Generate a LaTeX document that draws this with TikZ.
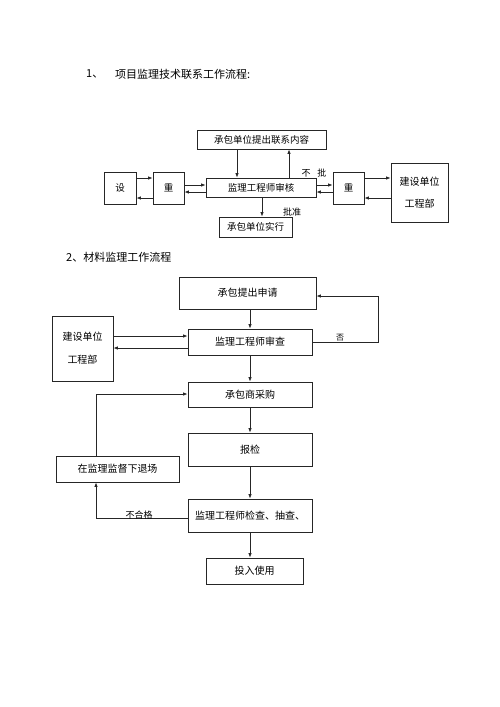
\documentclass[tikz,border=0pt]{standalone}
\usepackage{fontspec}
\newfontfamily\cjk{Noto Sans CJK SC}
\usetikzlibrary{arrows.meta,calc}
\tikzset{
  box/.style={draw=black!85, line width=0.8pt, fill=white, inner sep=0pt, font=\cjk\fontsize{9.5}{11}\selectfont, align=center},
  arr/.style={draw=black!85, line width=0.8pt, -{Latex[length=4.5pt,width=3.5pt]}},
  ln/.style={draw=black!85, line width=0.8pt},
  lbl/.style={font=\cjk\fontsize{9}{10}\selectfont, inner sep=0pt},
  ttl/.style={font=\cjk\fontsize{11}{13}\selectfont, inner sep=0pt, anchor=west}
}
\begin{document}
\begin{tikzpicture}[x=1pt,y=-1pt]
\useasboundingbox (0,0) rectangle (500,707);
% titles
\node[ttl] (t1a) at (86,74) {1、};
\node[ttl] (t1b) at (115,74) {项目监理技术联系工作流程:};
\node[ttl] (t2) at (66,257) {2、材料监理工作流程};

% ---- diagram 1
\node[box, minimum width=129pt, minimum height=19pt] (top) at (261.5,139.5) {承包单位提出联系内容};
\node[box, minimum width=32pt, minimum height=32pt] (she) at (120,188) {设};
\node[box, minimum width=31pt, minimum height=32pt] (zl) at (168.5,188) {重};
\node[box, minimum width=110pt, minimum height=19pt] (cen) at (261,187.5) {监理工程师审核};
\node[box, minimum width=31pt, minimum height=32pt] (zr) at (348.5,188) {重};
\node[box, minimum width=57pt, minimum height=59pt, font=\cjk\fontsize{10}{22}\selectfont] (js1) at (419.5,192.5) {建设单位\\工程部};
\node[box, minimum width=73pt, minimum height=20pt] (bot) at (255.5,227) {承包单位实行};

\draw[arr] (top.south -| 237,0) -- (cen.north -| 237,0);
\draw[arr] (cen.north -| 289,0) -- (top.south -| 289,0);
\draw[arr] (she.east |- 0,178) -- (zl.west |- 0,178);
\draw[arr] (zl.west |- 0,198) -- (she.east |- 0,198);
\draw[arr] (zl.east |- 0,185) -- (cen.west |- 0,185);
\draw[arr] (cen.west |- 0,192) -- (zl.east |- 0,192);
\draw[arr] (cen.east |- 0,185) -- (zr.west |- 0,185);
\draw[arr] (zr.west |- 0,192) -- (cen.east |- 0,192);
\draw[arr] (zr.east |- 0,178) -- (js1.west |- 0,178);
\draw[arr] (js1.west |- 0,198) -- (zr.east |- 0,198);
\draw[arr] (cen.south -| 262,0) -- (bot.north -| 262,0);
\node[lbl] (bupi) at (314,173) {不\hspace{7pt}批};
\node[lbl] (pizhun) at (292,212) {批准};

% ---- diagram 2
\tikzset{box2/.style={box, font=\cjk\fontsize{10}{12}\selectfont}}
\node[box2, minimum width=137pt, minimum height=32pt] (sq) at (247.5,293) {承包提出申请};
\node[box2, minimum width=61pt, minimum height=65pt, font=\cjk\fontsize{10}{23}\selectfont] (js2) at (82.5,348.5) {建设单位\\工程部};
\node[box2, minimum width=124pt, minimum height=26pt] (sc) at (250,342) {监理工程师审查};
\node[box2, minimum width=124pt, minimum height=25pt] (cg) at (250,394.5) {承包商采购};
\node[box2, minimum width=124pt, minimum height=33pt] (bj) at (250,449.5) {报检};
\node[box2, minimum width=123pt, minimum height=26pt] (tc) at (117.5,469) {在监理监督下退场};
\node[box2, minimum width=124pt, minimum height=33pt] (jc) at (250,515.5) {监理工程师检查、抽查、};
\node[box2, minimum width=97pt, minimum height=26pt] (tr) at (254.5,571) {投入使用};

\coordinate (lpA) at (378,342);
\coordinate (lpB) at (378,296);
\coordinate (lfA) at (96,394);
\coordinate (lfB) at (96,518);

\draw[arr] (sq.south -| 250,0) -- (sc.north -| 250,0);
\draw[arr] (sc.east) -- (lpA) -- (lpB) -- (sq.east |- lpB);
\node[lbl, font=\cjk\fontsize{8}{9}\selectfont] (fou) at (340,338) {否};
\draw[arr] (js2.east |- 0,336) -- (sc.west |- 0,336);
\draw[arr] (sc.west |- 0,348) -- (js2.east |- 0,348);
\draw[arr] (sc) -- (cg);
\draw[arr] (tc.north -| lfA) -- (lfA) -- (cg.west |- lfA);
\draw[arr] (cg) -- (bj);
\draw[arr] (bj) -- (jc);
\draw[arr] (jc.west |- lfB) -- (lfB) -- (tc.south -| lfB);
\node[lbl, font=\cjk\fontsize{9}{10}\selectfont] (bhg) at (139,515) {不合格};
\draw[arr] (jc.south -| 250,0) -- (tr.north -| 250,0);
\end{tikzpicture}
\end{document}
